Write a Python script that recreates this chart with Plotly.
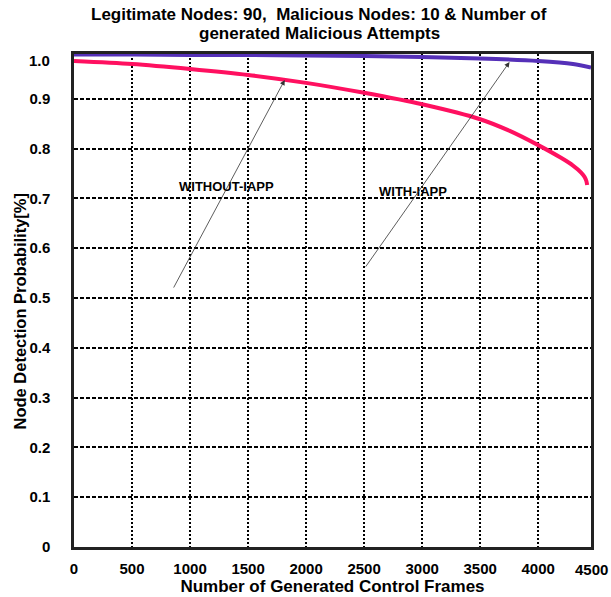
import plotly.graph_objects as go

# ---- data ----
frames_without = [0, 500, 1000, 1500, 2000, 2500, 3000, 3500, 3750, 4000, 4200, 4300, 4370, 4400, 4415, 4422]
prob_without = [0.976, 0.970, 0.960, 0.948, 0.932, 0.912, 0.889, 0.859, 0.836, 0.807, 0.781, 0.766, 0.752, 0.743, 0.735, 0.727]

frames_with = [0, 500, 1000, 1500, 2000, 2500, 3000, 3500, 4000, 4300, 4455]
prob_with = [0.989, 0.989, 0.988, 0.988, 0.987, 0.986, 0.984, 0.981, 0.976, 0.970, 0.963]

x_ticks = [0, 500, 1000, 1500, 2000, 2500, 3000, 3500, 4000, 4500]
x_labels = ["0", "500", "1000", "1500", "2000", "2500", "3000", "3500", "4000", "4500"]
y_ticks = [0, 0.1, 0.2, 0.3, 0.4, 0.5, 0.6, 0.7, 0.8, 0.9, 1.0]
y_labels = ["0", "0.1", "0.2", "0.3", "0.4", "0.5", "0.6", "0.7", "0.8", "0.9", "1.0"]

title_lines = ["Legitimate Nodes: 90,&nbsp; Malicious Nodes: 10 & Number of",
               "generated Malicious Attempts"]

X_MAX = 4455
Y_MAX = 0.99

FONT = "Liberation Sans, Arial, sans-serif"

fig = go.Figure()
fig.add_trace(go.Scatter(x=frames_without, y=prob_without, mode="lines",
                         line=dict(color="#FF1060", width=4, shape="spline", smoothing=0.8),
                         name="WITHOUT-IAPP", cliponaxis=False))
fig.add_trace(go.Scatter(x=frames_with, y=prob_with, mode="lines",
                         line=dict(color="#5530B8", width=4, shape="spline", smoothing=0.8),
                         name="WITH-IAPP", cliponaxis=False))

tick_font = dict(family=FONT, size=15, color="black", weight="bold")

fig.update_xaxes(range=[0, X_MAX], automargin=False,
                 tickvals=[v for v in x_ticks if v <= X_MAX],
                 ticktext=[t for v, t in zip(x_ticks, x_labels) if v <= X_MAX],
                 tickfont=tick_font, ticks="", ticklabelstandoff=6,
                 showgrid=True, gridcolor="black", gridwidth=1.5, griddash="2px,2px",
                 zeroline=False, showline=True, mirror=True, linecolor="#222", linewidth=2.5,
                 title=dict(text="Number of Generated Control Frames",
                            font=dict(family=FONT, size=17, color="black", weight="bold"),
                            standoff=3))
fig.update_yaxes(range=[0, Y_MAX], automargin=False,
                 tickvals=[v for v in y_ticks if v <= Y_MAX],
                 ticktext=[t for v, t in zip(y_ticks, y_labels) if v <= Y_MAX],
                 tickfont=tick_font, ticks="", ticklabelstandoff=18,
                 showgrid=True, gridcolor="black", gridwidth=1.5, griddash="4px,2px",
                 zeroline=False, showline=True, mirror=True, linecolor="#222", linewidth=2.5)

annotations = []
# title, one annotation per line
for i, line in enumerate(title_lines):
    annotations.append(dict(x=0.474, xref="paper", y=1, yref="paper", text=line, showarrow=False,
                            yshift=40 - 19 * i, xanchor="center", yanchor="middle",
                            font=dict(family=FONT, size=17, color="black", weight="bold")))
# y-axis title
annotations.append(dict(x=0, xref="paper", y=0.5, yref="paper", text="Node Detection Probability[%]",
                        showarrow=False, textangle=-90, xshift=-55, yshift=-11,
                        xanchor="center", yanchor="middle",
                        font=dict(family=FONT, size=16.5, color="black", weight="bold")))
# labels for the ticks that sit at the frame edges
for v, t in zip(x_ticks, x_labels):
    if v > X_MAX:
        annotations.append(dict(x=1, xref="paper", y=0, yref="paper", text=t, showarrow=False,
                                yshift=-22, font=tick_font, xanchor="center", yanchor="middle"))
for v, t in zip(y_ticks, y_labels):
    if v > Y_MAX:
        annotations.append(dict(x=0, xref="paper", y=0.976, yref="y", text=t, showarrow=False,
                                xshift=-22, font=tick_font, xanchor="right", yanchor="middle"))

# curve labels and arrows
annotations += [
    dict(x=1317, y=0.723, xref="x", yref="y", text="WITHOUT-IAPP", showarrow=False,
         font=dict(family=FONT, size=13, color="black", weight="bold")),
    dict(x=2918, y=0.713, xref="x", yref="y", text="WITH-IAPP", showarrow=False,
         font=dict(family=FONT, size=13, color="black", weight="bold")),
    dict(x=1816, y=0.938, ax=852, ay=0.518, xref="x", yref="y", axref="x", ayref="y",
         text="", showarrow=True, arrowhead=2, arrowsize=1.3, arrowwidth=0.8, arrowcolor="#333"),
    dict(x=3753, y=0.974, ax=2505, ay=0.560, xref="x", yref="y", axref="x", ayref="y",
         text="", showarrow=True, arrowhead=2, arrowsize=1.3, arrowwidth=0.8, arrowcolor="#333"),
]

fig.update_layout(
    width=611, height=597,
    margin=dict(l=74, r=20, t=54, b=50),
    paper_bgcolor="white", plot_bgcolor="white",
    showlegend=False,
    annotations=annotations,
)

fig.write_html("out.html")
